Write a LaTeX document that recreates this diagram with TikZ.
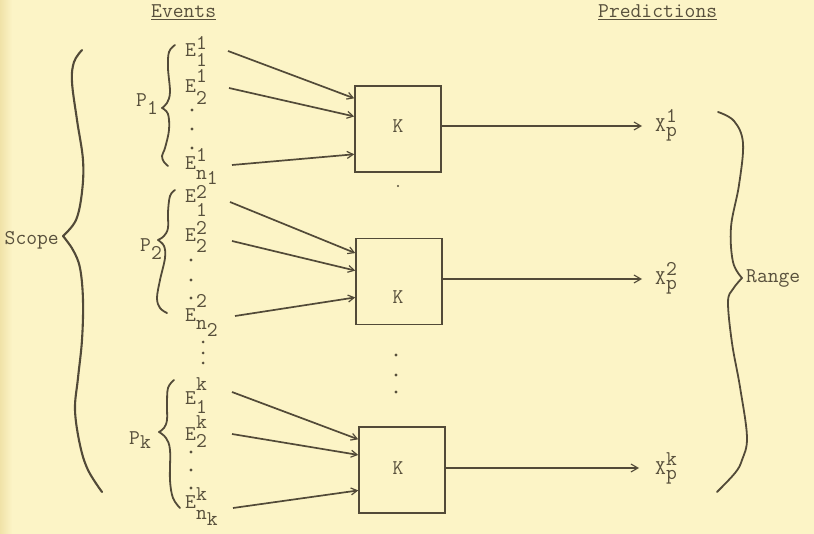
\documentclass[tikz,border=0pt]{standalone}
\usepackage{fontspec}
\usetikzlibrary{arrows.meta}
\definecolor{paper}{RGB}{252,244,198}
\definecolor{paperedge}{RGB}{240,226,168}
\definecolor{ink}{RGB}{88,80,60}
\definecolor{pen}{RGB}{82,74,56}
% typewriter-style indices: same size as the letter, shifted by hand
% \ev{raise}{sup}{drop}{sub}
\newcommand\ev[4]{E\rlap{\raisebox{#1pt}{#2}}\raisebox{-#3pt}{#4}}
% \evn{raise}{sup}{drop of n}{extra drop}{index of n}
\newcommand\evn[5]{E\rlap{\raisebox{#1pt}{#2}}\raisebox{-#3pt}{n\raisebox{-#4pt}{#5}}}
\newcommand\xp[1]{X\rlap{\raisebox{9.5pt}{#1}}\raisebox{-5pt}{p}}
\begin{document}
\begin{tikzpicture}[x=1pt,y=-1pt,
  txt/.style={inner sep=0pt, anchor=base west, text=ink,
    font=\fontsize{21}{21}\selectfont\ttfamily},
  kbox/.style={draw=pen, line width=1.6pt, minimum width=86pt,
    minimum height=86pt, inner sep=0pt},
  inarr/.style={draw=pen, line width=1.7pt,
    -{Straight Barb[length=6pt,width=7pt,line width=1.2pt]}},
  outarr/.style={draw=pen, line width=1.1pt,
    -{Straight Barb[length=7pt,width=8pt]}},
  brace/.style={draw=pen, line width=1.8pt, line cap=round, line join=round},
  dotmark/.style={fill=ink}
]
\useasboundingbox (0,0) rectangle (814,534);
\fill[paper] (0,0) rectangle (814,534);
\shade[left color=paperedge, right color=paper] (0,0) rectangle (12,534);

% column headings
\node[txt] (events) at (151,18) {\underline{Events}};
\node[txt] (preds) at (598,18) {\underline{Predictions}};

% outer labels
\node[txt, anchor=base east] (scope) at (59,245) {Scope};
\node[txt] (range) at (746,283) {Range};

% event labels
\node[txt] (e11) at (185,57)  {\ev{7}{1}{10}{1}};
\node[txt] (e12) at (185,93)  {\ev{10}{1}{12}{2}};
\node[txt] (e1n) at (185,170) {\evn{8}{1}{10}{5}{1}};
\node[txt] (e21) at (185,203) {\ev{4}{2}{14}{1}};
\node[txt] (e22) at (185,242) {\ev{7}{2}{11}{2}};
\node[txt] (e2n) at (185,322) {\evn{14}{2}{8}{7}{2}};
\node[txt] (ek1) at (185,405) {\ev{14}{k}{9}{1}};
\node[txt] (ek2) at (185,440) {\ev{12}{k}{7}{2}};
\node[txt] (ekn) at (185,508) {\evn{8}{k}{11}{6}{k}};

% partition labels
\node[txt] (p1) at (136,107) {P\raisebox{-8pt}{1}};
\node[txt] (p2) at (140,252) {P\raisebox{-8pt}{2}};
\node[txt] (pk) at (129,445) {P\raisebox{-3pt}{k}};

% elision dots
\foreach \y in {110,129,148} \fill[dotmark] (192,\y) circle (1.6);
\foreach \y in {260,280,298} \fill[dotmark] (191,\y) circle (1.6);
\foreach \y in {342,353,363} \fill[dotmark] (203,\y) circle (1.5);
\foreach \y in {452,470,488} \fill[dotmark] (191,\y) circle (1.6);
\foreach \y in {355,375,392} \fill[dotmark] (396,\y) circle (1.6);
\fill[dotmark] (398,186) circle (1.1);

% K boxes
\node[kbox] (box1) at (398,129) {};
\node[kbox] (box2) at (399,281.5) {};
\node[kbox] (box3) at (402,470) {};
\node[txt, anchor=center] (k1) at (398,126) {K};
\node[txt, anchor=center] (k2) at (398,297) {K};
\node[txt, anchor=center] (k3) at (398,468) {K};

% predictions
\node[txt] (x1) at (655,132) {\xp{1}};
\node[txt] (x2) at (655,285) {\xp{2}};
\node[txt] (xk) at (655,475) {\xp{k}};

% arrow tails beside the event labels
\coordinate (s11) at (228,51);
\coordinate (s12) at (229,88);
\coordinate (s1n) at (232,165);
\coordinate (s21) at (230,202);
\coordinate (s22) at (232,241);
\coordinate (s2n) at (235,316);
\coordinate (sk1) at (232,392);
\coordinate (sk2) at (232,434);
\coordinate (skn) at (233,508);

\draw[inarr] (s11) -- (box1.145);
\draw[inarr] (s12) -- (box1.164);
\draw[inarr] (s1n) -- (box1.210);
\draw[inarr] (s21) -- (box2.147);
\draw[inarr] (s22) -- (box2.166);
\draw[inarr] (s2n) -- (box2.200);
\draw[inarr] (sk1) -- (box3.145);
\draw[inarr] (sk2) -- (box3.161);
\draw[inarr] (skn) -- (box3.205);

% outputs
\coordinate (t1) at (642,126);
\coordinate (t2) at (642,279);
\coordinate (tk) at (639,468);
\draw[outarr] (box1.east |- t1) -- (t1);
\draw[outarr] (box2.east |- t2) -- (t2);
\draw[outarr] (box3.east |- tk) -- (tk);

% braces
\draw[brace, line width=2.1pt] plot[smooth, tension=0.6] coordinates
  {(82,50) (74,62) (72,82) (77,120) (83,160) (82,192) (76,220) (63,236)};
\draw[brace, line width=2.1pt] plot[smooth, tension=0.6] coordinates
  {(63,236) (73,250) (80,268) (83,300) (82,340) (78,378) (75,410) (80,445) (88,470) (102,492)};

\draw[brace] plot[smooth, tension=0.6] coordinates
  {(718,112) (734,121) (743,143) (739,185) (731,227) (733,262) (742,278)};
\draw[brace] plot[smooth, tension=0.6] coordinates
  {(742,278) (733,289) (728,302) (732,343) (740,387) (747,437) (742,460) (735,473) (717,492)};

\draw[brace] plot[smooth, tension=0.6] coordinates
  {(175,45) (169,52) (168,68) (170,92) (167,103) (162,108)};
\draw[brace] plot[smooth, tension=0.6] coordinates
  {(162,108) (168,114) (169,130) (165,148) (162,156) (164,162) (168,166)};

\draw[brace] plot[smooth, tension=0.6] coordinates
  {(175,190) (170,196) (168,212) (168,228) (164,236) (158,240)};
\draw[brace] plot[smooth, tension=0.6] coordinates
  {(158,240) (164,246) (165,258) (160,280) (157,298) (160,308) (167,313)};

\draw[brace] plot[smooth, tension=0.6] coordinates
  {(174,380) (168,388) (167,405) (167,420) (164,428) (159,432)};
\draw[brace] plot[smooth, tension=0.6] coordinates
  {(159,432) (166,438) (170,450) (170,480) (173,498) (180,508)};
\end{tikzpicture}
\end{document}
